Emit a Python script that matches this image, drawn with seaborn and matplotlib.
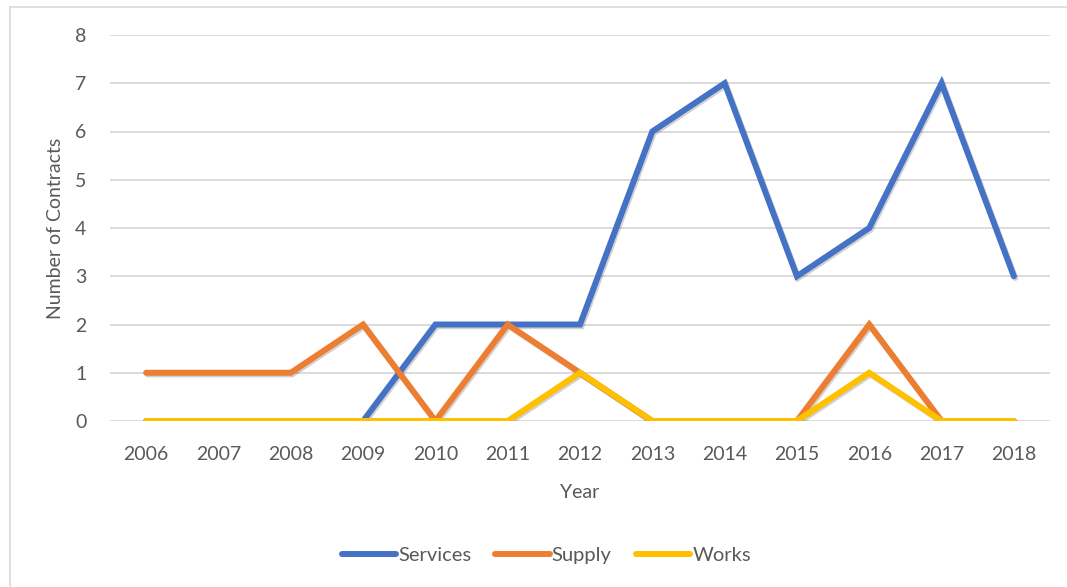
import matplotlib
matplotlib.use("Agg")
import matplotlib.pyplot as plt
import matplotlib.patheffects as pe
from matplotlib.lines import Line2D
import pandas as pd
import seaborn as sns

years = ["2006", "2007", "2008", "2009", "2010", "2011", "2012",
         "2013", "2014", "2015", "2016", "2017", "2018"]
services = [0, 0, 0, 0, 2, 2, 2, 6, 7, 3, 4, 7, 3]
supply = [1, 1, 1, 2, 0, 2, 1, 0, 0, 0, 2, 0, 0]
works = [0, 0, 0, 0, 0, 0, 1, 0, 0, 0, 1, 0, 0]

series_names = ["Services", "Supply", "Works"]
colors = {"Services": "#4472C4", "Supply": "#ED7D31", "Works": "#FFC000"}

df = pd.DataFrame({"Year": years, "Services": services,
                   "Supply": supply, "Works": works})
long_df = df.melt(id_vars="Year", var_name="Type", value_name="Contracts")
long_df["pos"] = long_df["Year"].map({y: i for i, y in enumerate(years)})

sns.set_theme(style="white")
plt.rcParams["font.family"] = ["Lato", "DejaVu Sans"]
text_color = "#595959"

fig = plt.figure(figsize=(10.67, 5.87), dpi=100)
ax = fig.add_axes([110 / 1067, 1 - 421 / 587, 940 / 1067, (421 - 35) / 587])

shadow = [pe.SimpleLineShadow(offset=(1.0, -1.2), shadow_color="black", alpha=0.18),
          pe.Normal()]

sns.lineplot(data=long_df, x="pos", y="Contracts", hue="Type",
             hue_order=series_names, palette=colors, linewidth=4.3,
             ax=ax, legend=False, sort=True)
for line in ax.get_lines():
    line.set_path_effects(shadow)
    line.set_solid_capstyle("round")
    line.set_solid_joinstyle("miter")

ax.set_xlim(-0.5, len(years) - 0.5)
ax.set_ylim(0, 8)
ax.set_xticks(range(len(years)))
ax.set_xticklabels(years)
ax.set_yticks(range(0, 9))
ax.yaxis.grid(True, color="#D9D9D9", linewidth=1.3)
ax.set_axisbelow(True)
for s in ax.spines.values():
    s.set_visible(False)
ax.tick_params(axis="both", length=0, labelsize=14, colors=text_color)
ax.tick_params(axis="x", pad=18)
ax.tick_params(axis="y", pad=17)
ax.set_xlabel("Year", fontsize=14, color=text_color, labelpad=15)
ax.set_ylabel("Number of Contracts", fontsize=14, color=text_color, labelpad=8)

handles = [Line2D([0], [0], color=colors[n], linewidth=4.3,
                  solid_capstyle="round") for n in series_names]
fig.legend(handles, series_names, loc="center", bbox_to_anchor=(0.512, 1 - 555 / 587),
           ncol=3, frameon=False, fontsize=14.5, handlelength=2.7,
           handletextpad=0.1, columnspacing=1.2, labelcolor=text_color)

# chart frame edges
fig.add_artist(Line2D([10 / 1067, 10 / 1067], [0, 1 - 7 / 587],
                      transform=fig.transFigure, color="#D9D9D9", linewidth=1.2))
fig.add_artist(Line2D([10 / 1067, 1], [1 - 7 / 587, 1 - 7 / 587],
                      transform=fig.transFigure, color="#D9D9D9", linewidth=1.2))

fig.savefig("out.png", dpi=100, facecolor="white")
